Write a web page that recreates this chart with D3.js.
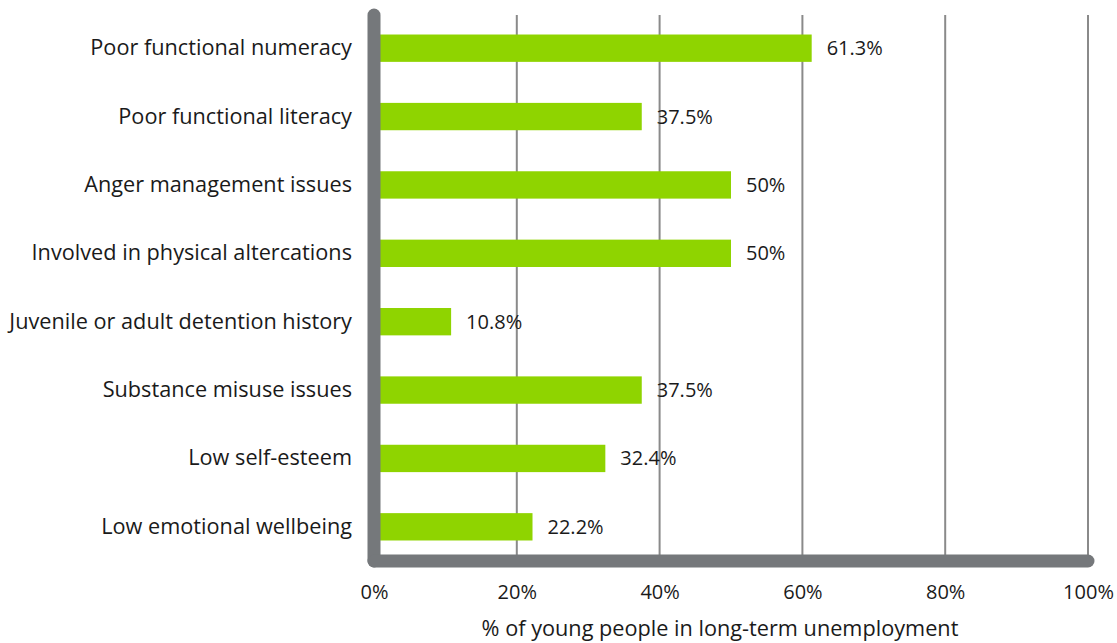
<!DOCTYPE html>
<html><head><meta charset="utf-8">
<script src="https://cdn.jsdelivr.net/npm/d3@7"></script>
<style>body{margin:0;background:#fff}svg{display:block}text{font-family:"Open Sans",sans-serif;fill:#1a1a1a}</style>
</head><body><svg id="c" width="1117" height="643"></svg>
<script>
const categories = ["Poor functional numeracy","Poor functional literacy","Anger management issues","Involved in physical altercations","Juvenile or adult detention history","Substance misuse issues","Low self-esteem","Low emotional wellbeing"];
const values = [61.3, 37.5, 50, 50, 10.8, 37.5, 32.4, 22.2];
const valueLabels = ["61.3%","37.5%","50%","50%","10.8%","37.5%","32.4%","22.2%"];
const ticks = [0,20,40,60,80,100];
const axisTitle = "% of young people in long-term unemployment";
const FONT = "'Open Sans', sans-serif";
const FS = 20, FS_CAT = 21.7;

const svg = d3.select("#c");
const x = d3.scaleLinear().domain([0,100]).range([374,1088]);
const y = d3.scaleBand().domain(categories).range([14,561]).paddingInner(0.6).paddingOuter(0.3);

svg.append("g").selectAll("line").data(ticks.filter(t=>t>0)).join("line")
  .attr("x1",d=>x(d)).attr("x2",d=>x(d)).attr("y1",15).attr("y2",556)
  .attr("stroke","#8a8a8a").attr("stroke-width",2);

svg.append("g").selectAll("rect").data(values).join("rect")
  .attr("x",x(0)+6).attr("y",(d,i)=>y(categories[i]))
  .attr("width",d=>x(d)-x(0)-6).attr("height",y.bandwidth())
  .attr("fill","#8fd400");

svg.append("g").selectAll("text").data(values).join("text")
  .attr("x",d=>x(d)+15).attr("y",(d,i)=>y(categories[i])+y.bandwidth()/2)
  .attr("dy","0.35em").attr("font-size",FS).text((d,i)=>valueLabels[i]);

svg.append("line").attr("x1",x(0)).attr("x2",x(0)).attr("y1",15).attr("y2",561)
  .attr("stroke","#75787b").attr("stroke-width",13).attr("stroke-linecap","round");
svg.append("line").attr("x1",x(0)).attr("x2",x(100)).attr("y1",561).attr("y2",561)
  .attr("stroke","#75787b").attr("stroke-width",13).attr("stroke-linecap","round");

const yAxis = d3.axisLeft(y).tickSize(0).tickPadding(0);
const gy = svg.append("g").attr("transform","translate(352,0)").call(yAxis);
gy.select(".domain").remove();
gy.selectAll("text").attr("font-size",FS_CAT).attr("fill","#1a1a1a").style("font-family",FONT);

const xAxis = d3.axisBottom(x).tickValues(ticks).tickFormat(d=>d+"%").tickSize(0).tickPadding(0);
const gx = svg.append("g").attr("transform","translate(0,592)").call(xAxis);
gx.select(".domain").remove();
gx.selectAll("text").attr("font-size",FS).attr("dy","0.35em").attr("fill","#1a1a1a").style("font-family",FONT);

svg.append("text").attr("x",720).attr("y",628).attr("dy","0.35em").attr("text-anchor","middle")
  .attr("font-size",FS_CAT).text(axisTitle);
</script></body></html>
